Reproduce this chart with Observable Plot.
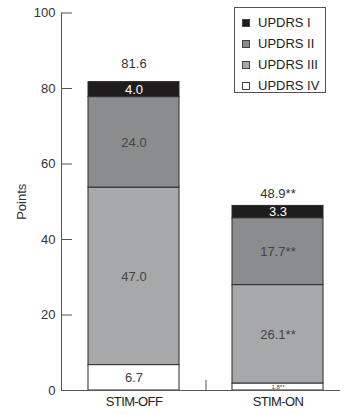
<!DOCTYPE html>
<html>
<head>
<meta charset="utf-8">
<script src="https://cdn.jsdelivr.net/npm/d3@7"></script>
<script src="https://cdn.jsdelivr.net/npm/@observablehq/plot@0.6"></script>
<style>
  body { margin: 0; background: #fff; }
  #chart { position: relative; width: 345px; height: 414px; font-family: "Liberation Sans", sans-serif; color: #333; }
  #chart svg { display: block; }
  .legend { position: absolute; left: 234px; top: 7px; width: 92px; height: 86px; box-sizing: border-box;
            border: 1px solid #555; background: #fff; padding: 4px 0 0 7px; }
  .legend .item { display: flex; align-items: center; height: 21px; font-size: 13px; color: #222; }
  .legend .sw { width: 8px; height: 8px; box-sizing: border-box; border: 1px solid #444; margin-right: 8px; }
  .xlab text { letter-spacing: -0.6px; }
</style>
</head>
<body>
<div id="chart"></div>
<script>
// UPDRS subscale scores, stimulation off vs on
const conditions = ["STIM-OFF", "STIM-ON"];
const subscales = ["UPDRS I", "UPDRS II", "UPDRS III", "UPDRS IV"];
const subscaleColors = ["#1f1c1d", "#8b8c8e", "#a7a8aa", "#ffffff"];
const offValues = [4.0, 24.0, 47.0, 6.7];
const onValues = [3.3, 17.7, 26.1, 1.8];
const offLabels = ["4.0", "24.0", "47.0", "6.7"];
const onLabels = ["3.3", "17.7**", "26.1**", "1.8**"];
const totals = [81.6, 48.9];
const totalLabels = ["81.6", "48.9**"];
const yTicks = [0, 20, 40, 60, 80, 100];

const rows = [];
subscales.forEach((s, i) => {
  rows.push({condition: conditions[0], subscale: s, value: offValues[i], label: offLabels[i]});
  rows.push({condition: conditions[1], subscale: s, value: onValues[i], label: onLabels[i]});
});
const totalRows = conditions.map((c, i) => ({condition: c, total: totals[i], label: totalLabels[i]}));

// IV at the bottom, I on top
const stackOrder = subscales.slice().reverse();

const plot = Plot.plot({
  width: 345,
  height: 414,
  marginLeft: 61,
  marginRight: 5,
  marginTop: 12.5,
  marginBottom: 24,
  style: {fontFamily: "Liberation Sans, sans-serif", fontSize: "13px", color: "#333", background: "#fff"},
  x: {domain: conditions, paddingInner: 0.37, paddingOuter: 0.15, align: 0.6},
  y: {domain: [0, 100]},
  color: {domain: subscales, range: subscaleColors},
  marks: [
    Plot.barY(rows, {x: "condition", y: "value", fill: "subscale", z: "subscale", order: stackOrder,
      stroke: "#2b2b2b", strokeWidth: 1}),
    Plot.text(rows, Plot.stackY({x: "condition", y: "value", z: "subscale", order: stackOrder, text: "label",
      fill: d => d.subscale === "UPDRS I" ? "#fff" : "#444",
      fontWeight: d => d.subscale === "UPDRS I" ? "bold" : "normal",
      fontSize: d => d.value < 3 ? 6 : 13})),
    Plot.text(totalRows.filter(d => d.condition === "STIM-OFF"), {x: "condition", y: "total", text: "label", dy: -19, fill: "#333", fontSize: 13}),
    Plot.text(totalRows.filter(d => d.condition === "STIM-ON"), {x: "condition", y: "total", text: "label", dy: -12, fill: "#333", fontSize: 13}),
    Plot.frame({anchor: "left", stroke: "#555"}),
    Plot.ruleY([0], {stroke: "#555"}),
    Plot.ruleX([conditions[0]], {x: d => d, y1: 0, y2: 2.7, dx: 72, stroke: "#555"}),
    Plot.axisY({ticks: yTicks, tickSize: -11, tickPadding: 17, stroke: "#555", fill: "#333",
      label: "Points", labelAnchor: "center", labelArrow: "none", labelOffset: 45}),
    Plot.axisX({tickSize: 0, tickPadding: 6, label: null, fill: "#222", className: "xlab"})
  ]
});

const chart = document.getElementById("chart");
chart.appendChild(plot);

// legend box in the upper right
const legend = document.createElement("div");
legend.className = "legend";
subscales.forEach((s, i) => {
  const item = document.createElement("div");
  item.className = "item";
  const sw = document.createElement("span");
  sw.className = "sw";
  sw.style.background = subscaleColors[i];
  const txt = document.createElement("span");
  txt.textContent = s;
  item.appendChild(sw);
  item.appendChild(txt);
  legend.appendChild(item);
});
chart.appendChild(legend);
</script>
</body>
</html>
